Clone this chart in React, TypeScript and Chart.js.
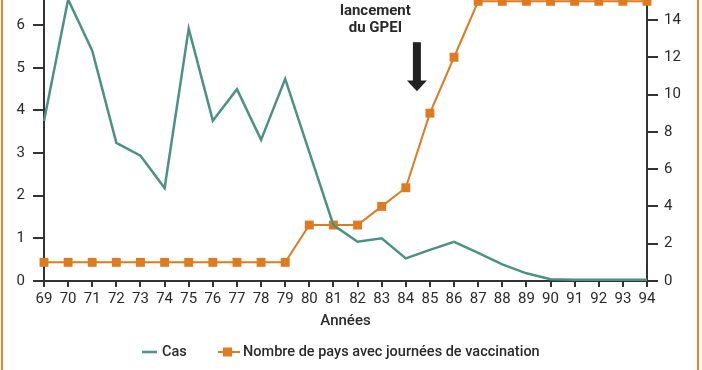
import React, { useEffect, useRef } from "react";
import { Chart, registerables } from "chart.js";

Chart.register(...registerables);

const years = ["69","70","71","72","73","74","75","76","77","78","79","80","81","82","83","84","85","86","87","88","89","90","91","92","93","94"];
const casValues = [3.75, 6.6, 5.4, 3.24, 2.94, 2.18, 5.92, 3.76, 4.5, 3.31, 4.74, 3.02, 1.31, 0.92, 1.0, 0.53, 0.73, 0.92, 0.66, 0.39, 0.18, 0.04, 0.03, 0.03, 0.03, 0.03];
const paysValues = [1, 1, 1, 1, 1, 1, 1, 1, 1, 1, 1, 3, 3, 3, 4, 5, 9, 12, 15, 15, 15, 15, 15, 15, 15, 15];
const seriesLabels = ["Cas", "Nombre de pays avec journées de vaccination"];
const annotationLines = ["lancement", "du GPEI"];
const xTitle = "Années";

const TEAL = "#4b9282";
const ORANGE = "#e07a1f";
const DARK = "#2a2a2a";
const FONT = "Roboto";
const SHIFT = 20;

const extrasPlugin = {
  id: "extras",
  afterDatasetsDraw(chart: any) {
    const { ctx } = chart;
    const x = chart.scales.x;
    const y = chart.scales.y;
    ctx.save();
    ctx.fillStyle = DARK;
    ctx.font = `bold 15px ${FONT}`;
    ctx.textAlign = "center";
    ctx.textBaseline = "middle";
    const tx = x.getPixelForValue(13.74);
    ctx.fillText(annotationLines[0], tx, y.getPixelForValue(6.33));
    ctx.fillText(annotationLines[1], tx, y.getPixelForValue(5.92));
    const ax = x.getPixelForValue(15.46);
    const sTop = y.getPixelForValue(5.6);
    const sBot = y.getPixelForValue(4.7);
    const tip = y.getPixelForValue(4.45);
    ctx.fillStyle = "#222";
    ctx.fillRect(ax - 4, sTop, 8, sBot - sTop + 1);
    ctx.beginPath();
    ctx.moveTo(ax - 10, sBot);
    ctx.lineTo(ax + 10, sBot);
    ctx.lineTo(ax, tip);
    ctx.closePath();
    ctx.fill();
    ctx.restore();
  },
  afterDraw(chart: any) {
    const { ctx, height } = chart;
    ctx.save();
    ctx.fillStyle = "#e8862c";
    ctx.fillRect(1, 0, 2, height);
    ctx.fillRect(697, 0, 2, height);
    const ly = 352 + SHIFT;
    ctx.font = `500 14.5px ${FONT}`;
    ctx.textBaseline = "middle";
    ctx.textAlign = "left";
    let lx = 142;
    const ds = chart.data.datasets;
    ctx.strokeStyle = ds[0].borderColor;
    ctx.lineWidth = 2.5;
    ctx.beginPath();
    ctx.moveTo(lx, ly);
    ctx.lineTo(lx + 15, ly);
    ctx.stroke();
    ctx.fillStyle = DARK;
    ctx.fillText(ds[0].label, lx + 20, ly);
    lx = 218;
    ctx.strokeStyle = ds[1].borderColor;
    ctx.lineWidth = 2;
    ctx.beginPath();
    ctx.moveTo(lx, ly);
    ctx.lineTo(lx + 22, ly);
    ctx.stroke();
    ctx.fillStyle = ds[1].borderColor;
    ctx.fillRect(lx + 5, ly - 4.5, 9, 9);
    ctx.fillStyle = DARK;
    ctx.fillText(ds[1].label, lx + 25, ly);
    ctx.restore();
  },
};

export default function App() {
  const ref = useRef<HTMLCanvasElement | null>(null);
  useEffect(() => {
    document.body.style.margin = "0";
    if (!ref.current) return;
    const axisGrid = { drawOnChartArea: false, drawTicks: true, color: "#333", lineWidth: 2 };
    const chart = new Chart(ref.current, {
      type: "line",
      data: {
        labels: years,
        datasets: [
          {
            label: seriesLabels[0],
            data: casValues,
            yAxisID: "y",
            borderColor: TEAL,
            backgroundColor: TEAL,
            borderWidth: 2.5,
            pointRadius: 0,
            tension: 0,
            clip: false,
          },
          {
            label: seriesLabels[1],
            data: paysValues,
            yAxisID: "y2",
            borderColor: ORANGE,
            backgroundColor: ORANGE,
            borderWidth: 2,
            pointStyle: "rect",
            pointRadius: 6.3,
            pointBorderWidth: 0,
            pointBackgroundColor: ORANGE,
            tension: 0,
            clip: false,
          },
        ],
      },
      options: {
        responsive: false,
        animation: false,
        maintainAspectRatio: false,
        layout: { padding: { top: SHIFT, bottom: 40, left: 0, right: 0 } },
        plugins: { legend: { display: false }, tooltip: { enabled: false } },
        scales: {
          x: {
            type: "category",
            offset: false,
            grid: { ...axisGrid, tickLength: 6 },
            border: { color: "#333", width: 2 },
            ticks: { color: DARK, font: { family: FONT, size: 15 }, padding: 3, maxRotation: 0, autoSkip: false },
            title: { display: true, text: xTitle, color: DARK, font: { family: FONT, size: 15, weight: "500" }, padding: { top: 0, bottom: 0 } },
            afterFit: (s: any) => { s.height = 49; },
          },
          y: {
            position: "left",
            min: 0,
            max: 6.59,
            grid: { ...axisGrid, tickLength: 11 },
            border: { color: "#333", width: 2 },
            ticks: { stepSize: 1, includeBounds: false, color: DARK, font: { family: FONT, size: 15 }, padding: 8 },
            afterFit: (s: any) => { s.width = 44; },
          },
          y2: {
            position: "right",
            min: 0,
            max: 15.07,
            grid: { ...axisGrid, tickLength: 11 },
            border: { color: "#333", width: 2 },
            ticks: { stepSize: 2, includeBounds: false, color: DARK, font: { family: FONT, size: 15 }, padding: 6 },
            afterFit: (s: any) => { s.width = 55; },
          },
        },
      },
      plugins: [extrasPlugin],
    } as any);
    return () => chart.destroy();
  }, []);
  return (
    <div style={{ position: "relative", width: 702, height: 370, overflow: "hidden", background: "#fff" }}>
      <canvas ref={ref} width={702} height={370 + SHIFT} style={{ position: "absolute", left: 0, top: -SHIFT, width: 702, height: 370 + SHIFT }} />
    </div>
  );
}
